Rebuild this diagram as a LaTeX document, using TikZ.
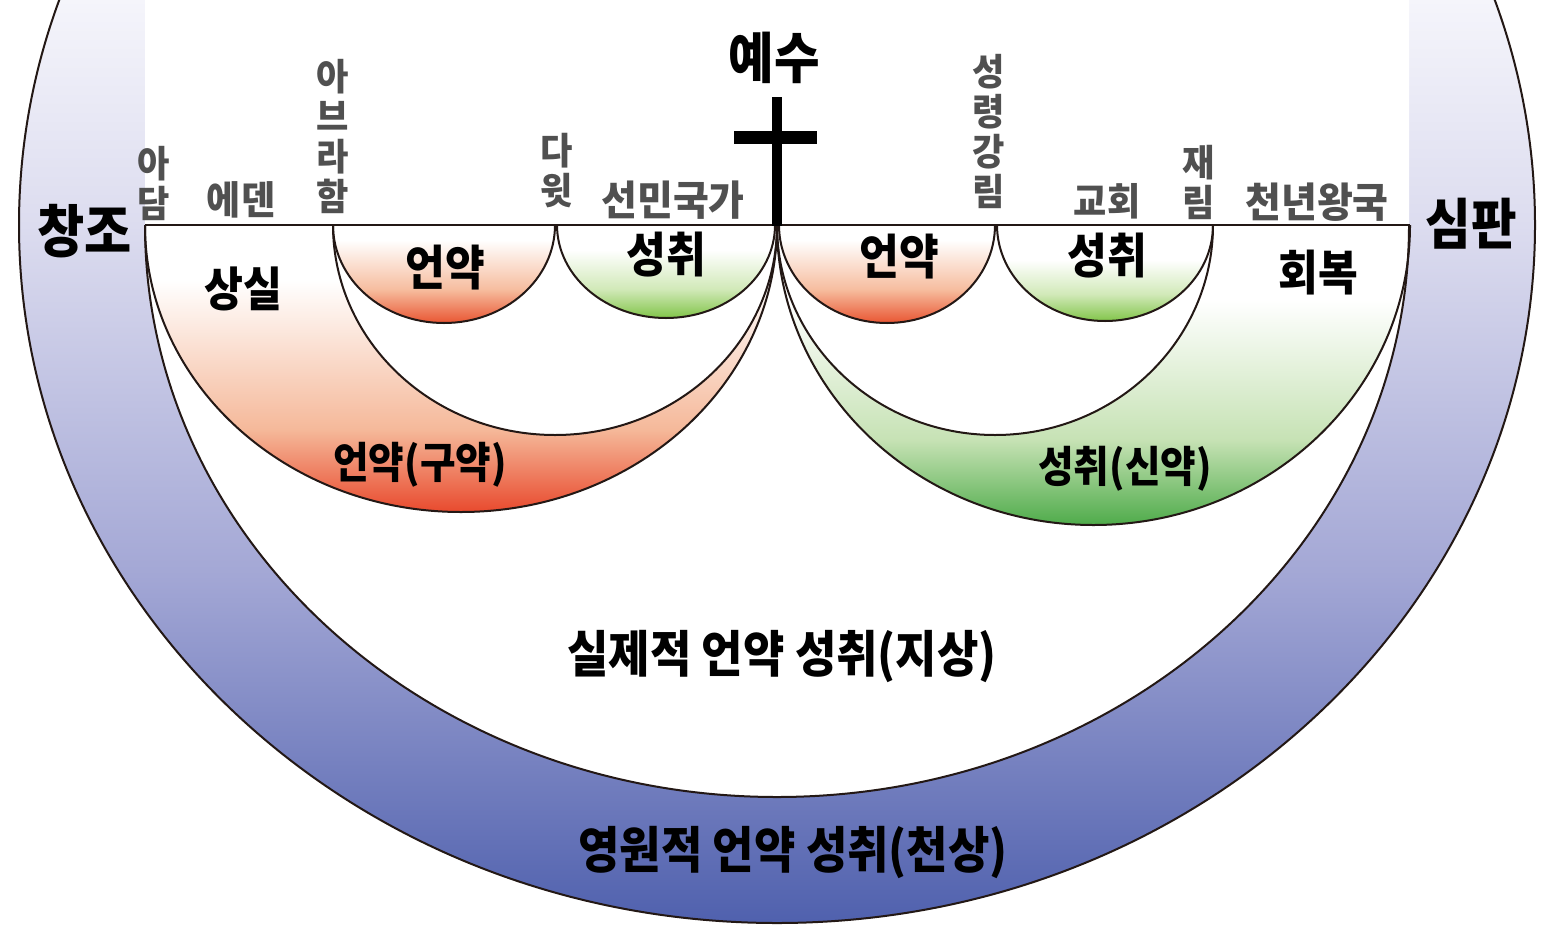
\documentclass[tikz,border=0pt]{standalone}
\usepackage{fontspec}
\newfontfamily\krb{Noto Sans CJK KR}[FakeStretch=0.9]
\newfontfamily\krg{Noto Sans CJK KR}[FakeStretch=0.95]
\definecolor{strokec}{HTML}{231815}
\definecolor{labgray}{HTML}{505050}
\definecolor{bandA}{HTML}{F5F5FB}
\definecolor{bandB}{HTML}{DCDCEF}
\definecolor{bandC}{HTML}{A3A7D5}
\definecolor{bandD}{HTML}{4A5CAB}
\definecolor{redmid}{HTML}{F5B899}
\definecolor{redbot}{HTML}{E8462A}
\definecolor{grnmid}{HTML}{C6E2B4}
\definecolor{grnbot}{HTML}{4CAA48}
\definecolor{sredmid}{HTML}{F6BB9C}
\definecolor{sredbot}{HTML}{E84F2C}
\definecolor{sgrnmid}{HTML}{CFE8B5}
\definecolor{sgrnbot}{HTML}{7CC242}
\begin{document}
\begin{tikzpicture}[x=1pt,y=-1pt,
  edge/.style={draw=strokec, line width=2pt},
  lab/.style={inner sep=0pt, text=black, font=\krb\bfseries\fontsize{#1}{#1}\selectfont},
  glab/.style={inner sep=0pt, align=center, text=labgray, font=\krg\bfseries\fontsize{#1}{40}\selectfont},
]
\useasboundingbox (0,0) rectangle (1552,945);
\begin{scope}
\clip (0,0) rectangle (1552,945);
\fill[white] (0,0) rectangle (1552,945);
% outer band
\begin{scope}
  \clip (777,225) ellipse [x radius=758, y radius=698];
  \shade[top color=bandA, bottom color=bandB] (0,-1) rectangle (1552,226);
  \shade[top color=bandB, bottom color=bandC] (0,225) rectangle (1552,576);
  \shade[top color=bandC, bottom color=bandD] (0,575) rectangle (1552,946);
\end{scope}
\fill[white] (145,225) arc[start angle=180, end angle=0, x radius=632, y radius=572] -- (1409,-5) -- (145,-5) -- cycle;
% left big region (old covenant)
\begin{scope}
  \clip (145,225) arc[start angle=180, end angle=0, x radius=316, y radius=287] -- cycle;
  \shade[top color=white, bottom color=redmid] (140,280) rectangle (780,431);
  \shade[top color=redmid, bottom color=redbot] (140,430) rectangle (780,515);
\end{scope}
\fill[white] (333,225) arc[start angle=180, end angle=0, x radius=222, y radius=210] -- cycle;
% small left arcs
\begin{scope}
  \clip (333,225) arc[start angle=180, end angle=0, x radius=111, y radius=98] -- cycle;
  \shade[top color=white, bottom color=sredmid] (330,240) rectangle (560,291);
  \shade[top color=sredmid, bottom color=sredbot] (330,290) rectangle (560,325);
\end{scope}
\begin{scope}
  \clip (557,225) arc[start angle=180, end angle=0, x radius=109, y radius=93] -- cycle;
  \shade[top color=white, bottom color=sgrnmid] (550,250) rectangle (780,291);
  \shade[top color=sgrnmid, bottom color=sgrnbot] (550,290) rectangle (780,320);
\end{scope}
% right big region (new covenant)
\begin{scope}
  \clip (777,225) arc[start angle=180, end angle=0, x radius=316.5, y radius=300] -- cycle;
  \shade[top color=white, bottom color=grnmid] (770,300) rectangle (1415,441);
  \shade[top color=grnmid, bottom color=grnbot] (770,440) rectangle (1415,527);
\end{scope}
\fill[white] (777,225) arc[start angle=180, end angle=0, x radius=218, y radius=210] -- cycle;
\begin{scope}
  \clip (779,225) arc[start angle=180, end angle=0, x radius=108, y radius=98] -- cycle;
  \shade[top color=white, bottom color=sredmid] (775,240) rectangle (1000,291);
  \shade[top color=sredmid, bottom color=sredbot] (775,290) rectangle (1000,325);
\end{scope}
\begin{scope}
  \clip (997,225) arc[start angle=180, end angle=0, x radius=108, y radius=96] -- cycle;
  \shade[top color=white, bottom color=sgrnmid] (990,260) rectangle (1220,296);
  \shade[top color=sgrnmid, bottom color=sgrnbot] (990,295) rectangle (1220,323);
\end{scope}
% strokes
\draw[edge] (777,225) ellipse [x radius=758, y radius=698];
\draw[edge] (145,225) arc[start angle=180, end angle=0, x radius=632, y radius=572];
\draw[edge] (145,225) arc[start angle=180, end angle=0, x radius=316, y radius=287];
\draw[edge] (333,225) arc[start angle=180, end angle=0, x radius=222, y radius=210];
\draw[edge] (333,225) arc[start angle=180, end angle=0, x radius=111, y radius=98];
\draw[edge] (557,225) arc[start angle=180, end angle=0, x radius=109, y radius=93];
\draw[edge] (777,225) arc[start angle=180, end angle=0, x radius=316.5, y radius=300];
\draw[edge] (777,225) arc[start angle=180, end angle=0, x radius=218, y radius=210];
\draw[edge] (779,225) arc[start angle=180, end angle=0, x radius=108, y radius=98];
\draw[edge] (997,225) arc[start angle=180, end angle=0, x radius=108, y radius=96];
\draw[edge, line width=1.8pt] (145,225) -- (1410,225);
% cross
\fill[black] (772,97) rectangle (782,226);
\fill[black] (734,131) rectangle (817,144);
\end{scope}
% labels
\node[lab=57] (creation) at (85,231) {창조};
\node[lab=55] (judgment) at (1471,224) {심판};
\node[lab=55] (jesus) at (774,58) {예수};
\node[lab=47] (loss) at (243,289) {상실};
\node[lab=48] (covL) at (445,268) {언약};
\node[lab=48] (fulL) at (666,255) {성취};
\node[lab=48] (covR) at (899,257) {언약};
\node[lab=48] (fulR) at (1107,256) {성취};
\node[lab=48] (restore) at (1318,273) {회복};
\node[lab=43] (oldt) at (420,465) {언약(구약)};
\node[lab=43] (newt) at (1125,469) {성취(신약)};
\node[lab=50] (earth) at (782,657) {실제적 언약 성취(지상)};
\node[lab=50] (heaven) at (793,853) {영원적 언약 성취(천상)};
\node[glab=37] (adam) at (154,183) {아\\담};
\node[glab=39] (eden) at (241,200) {에덴};
\node[glab=37] (abraham) at (333,136) {아\\브\\라\\함};
\node[glab=37] (david) at (557,171) {다\\윗};
\node[glab=41] (nation) at (673,200) {선민국가};
\node[glab=37] (spirit) at (989,131) {성\\령\\강\\림};
\node[glab=38] (church) at (1107,201) {교회};
\node[glab=37] (return) at (1199,182) {재\\림};
\node[glab=41] (millennium) at (1317,202) {천년왕국};
\end{tikzpicture}
\end{document}
